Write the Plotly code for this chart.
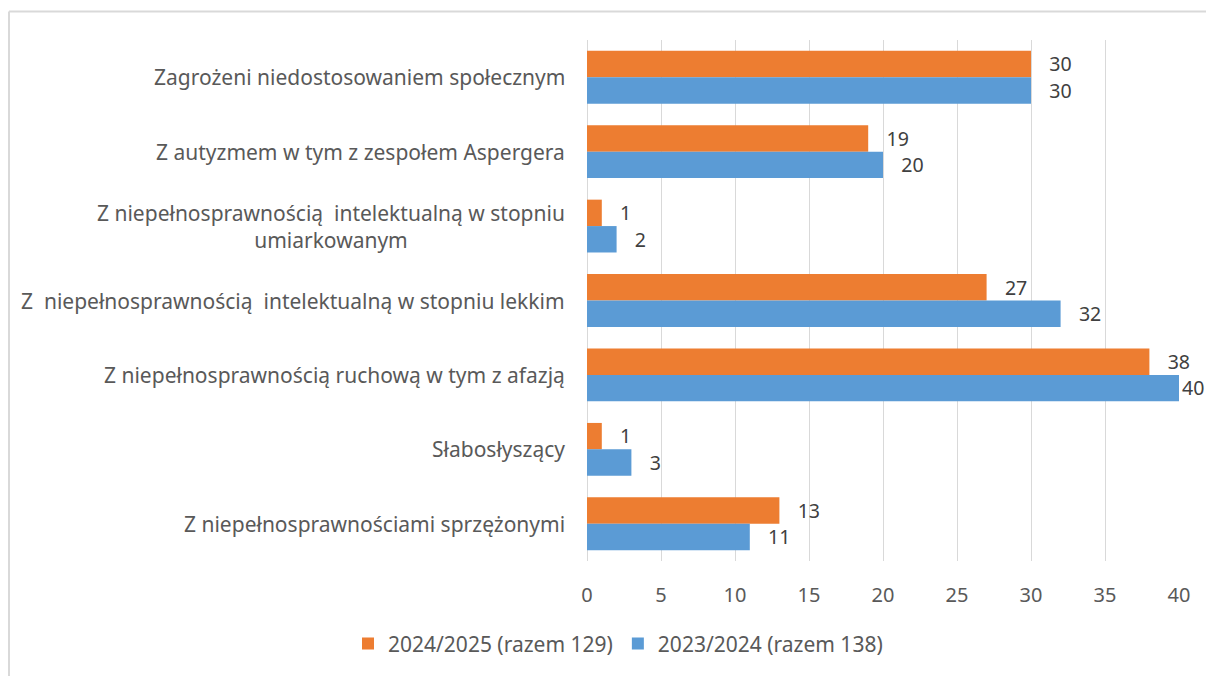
import plotly.graph_objects as go

categories = [
    "Zagrożeni niedostosowaniem społecznym",
    "Z autyzmem w tym z zespołem Aspergera",
    "Z niepełnosprawnością  intelektualną w stopniu<br>umiarkowanym",
    "Z  niepełnosprawnością  intelektualną w stopniu lekkim",
    "Z niepełnosprawnością ruchową w tym z afazją",
    "Słabosłyszący",
    "Z niepełnosprawnościami sprzężonymi",
]
values_2024_2025 = [30, 19, 1, 27, 38, 1, 13]
values_2023_2024 = [30, 20, 2, 32, 40, 3, 11]
series_names = ["2024/2025 (razem 129)", "2023/2024 (razem 138)"]
x_ticks = [0, 5, 10, 15, 20, 25, 30, 35, 40]

ORANGE = "#ED7D31"
BLUE = "#5B9BD5"
TEXT = "#595959"
FONT = "Noto Sans"
FS = 20
FS_CAT = 21

# page has an 8px body margin, so the figure is 16px smaller than the window
OFF = 8
W, H = 1214 - 2 * OFF, 684 - 2 * OFF
L, R, T, B = 587 - OFF, 1179 - OFF, 40 - OFF, 568 - OFF
XMAX = 40


def label(v):
    # keep the label of a bar at the axis end inside the canvas
    return f"{v}" if v >= XMAX else f"   {v}"


fig = go.Figure()
for name, vals, col in [(series_names[0], values_2024_2025, ORANGE),
                        (series_names[1], values_2023_2024, BLUE)]:
    fig.add_trace(go.Bar(
        y=categories, x=vals, name=name, orientation="h",
        marker=dict(color=col, line=dict(width=0)),
        text=[label(v) for v in vals], textposition="outside",
        textfont=dict(size=FS, color="#404040", family=FONT),
        cliponaxis=False,
    ))

# category labels as annotations (centered multi-line)
for c in categories:
    fig.add_annotation(
        x=0, xref="paper", y=c, yref="y", text=c, showarrow=False,
        xanchor="right", align="center", xshift=-20,
        font=dict(size=FS_CAT, color=TEXT, family=FONT),
    )

pw = R - L
ph = B - T
fy = 1 + (T - (10 - OFF + 1)) / ph
fx = (8 - OFF + 1 - L) / pw
fig.add_shape(type="line", xref="paper", yref="paper",
              x0=fx, x1=(W + 20 - L) / pw, y0=fy, y1=fy,
              line=dict(color="#D9D9D9", width=2))
fig.add_shape(type="line", xref="paper", yref="paper",
              x0=fx, x1=fx, y0=fy, y1=-(H + 20 - B) / ph,
              line=dict(color="#D9D9D9", width=2))

fig.update_layout(
    width=W, height=H,
    margin=dict(l=L, r=W - R, t=T, b=H - B, pad=0),
    paper_bgcolor="white", plot_bgcolor="white",
    barmode="group", bargap=0.29, bargroupgap=0,
    font=dict(family=FONT, color=TEXT),
    showlegend=True,
    legend=dict(orientation="h", x=(618 - OFF - L) / pw, xanchor="center",
                y=-(652 - OFF - B) / ph, yanchor="middle",
                font=dict(size=FS_CAT, color=TEXT, family=FONT),
                itemwidth=30, traceorder="normal"),
    xaxis=dict(range=[0, XMAX], tickvals=x_ticks, showgrid=True,
               gridcolor="#D9D9D9", gridwidth=1, zeroline=True,
               zerolinecolor="#D9D9D9", zerolinewidth=1,
               tickfont=dict(size=FS, color=TEXT, family=FONT),
               ticks="", ticklabelstandoff=20, showline=False),
    yaxis=dict(categoryorder="array", categoryarray=categories,
               autorange="reversed", showticklabels=False,
               showgrid=False, zeroline=False, showline=False),
)

fig.write_html("out.html")
